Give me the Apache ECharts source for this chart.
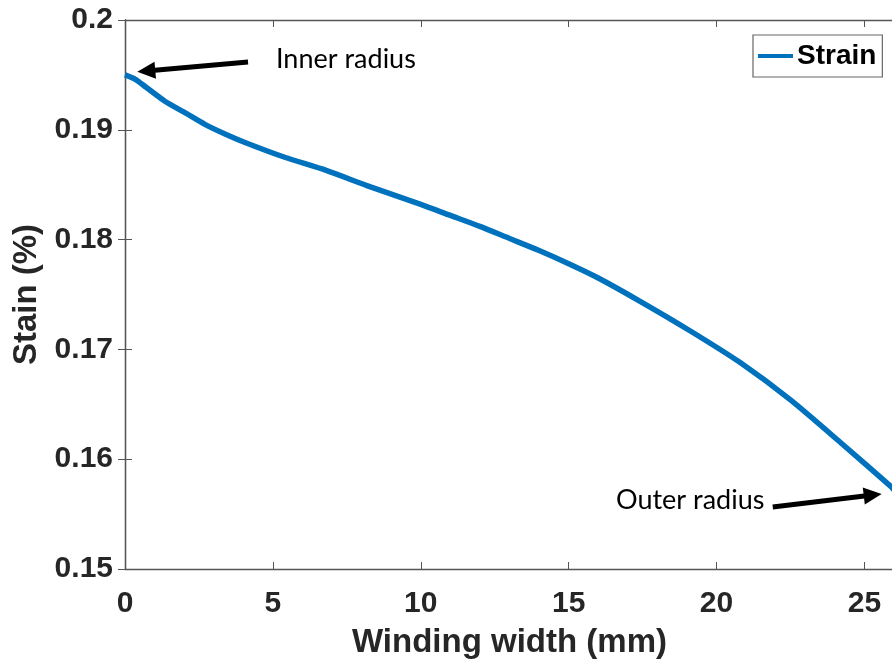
<!DOCTYPE html>
<html>
<head>
<meta charset="utf-8">
<script src="https://cdn.jsdelivr.net/npm/echarts@6/dist/echarts.min.js"></script>
<style>html,body{margin:0;padding:0;background:#fff;}#c{width:892px;height:668px;}</style>
</head>
<body>
<div id="c"></div>
<script>
const widthMm = [0, 0.35, 0.7, 1.35, 2, 2.7, 3.4, 4.1, 5.4, 6.8, 8.3, 10, 11, 12, 13, 14, 15, 16, 17.4, 19.1, 20.8, 22.5, 24.2, 25.9, 26];
const strain = [0.1950, 0.1946, 0.1939, 0.1926, 0.1916, 0.1905, 0.1896, 0.1888, 0.1875, 0.1863, 0.1848, 0.1832, 0.1822, 0.1812, 0.1801, 0.1790, 0.1778, 0.1765, 0.1744, 0.1717, 0.1688, 0.1654, 0.1615, 0.1575, 0.1572];
const xTicks = [0, 5, 10, 15, 20, 25];
const yTicks = [0.15, 0.16, 0.17, 0.18, 0.19, 0.2];
const innerArrow = [[4.16, 0.19617], [0.72, 0.19536]];
const outerArrow = [[21.9, 0.15565], [25.28, 0.15674]];

const chart = echarts.init(document.getElementById('c'));
const axisCol = '#555';
const labFont = {fontFamily: 'Liberation Sans, Arial, sans-serif', fontWeight: 'bold', color: '#262626'};
const data = widthMm.map((x, i) => [x, strain[i]]);
chart.setOption({
  animation: false,
  grid: {left: 125, top: 20, width: 769, height: 549, containLabel: false, outerBoundsMode: 'none'},
  legend: {
    data: ['Strain'], left: 753, top: 35, orient: 'vertical',
    backgroundColor: '#fff', borderColor: '#666', borderWidth: 1.2,
    padding: [7, 6, 7, 5], itemWidth: 35, itemHeight: 4, itemGap: 0,
    icon: 'rect',
    textStyle: {fontFamily: 'Liberation Sans, Arial, sans-serif', fontWeight: 'bold', fontSize: 28, lineHeight: 28, color: '#000', padding: [0, 0, 0, -1]}
  },
  xAxis: [{
    type: 'value', min: 0, max: 26, interval: 5,
    name: 'Winding width (mm)', nameLocation: 'middle', nameGap: 57,
    nameTextStyle: Object.assign({fontSize: 33}, labFont),
    axisLine: {lineStyle: {color: axisCol, width: 1.3}},
    axisTick: {inside: true, length: 7, lineStyle: {color: axisCol}},
    axisLabel: Object.assign({fontSize: 30, margin: 20, showMaxLabel: false, formatter: v => xTicks.includes(v) ? String(v) : ''}, labFont),
    splitLine: {show: false}
  }, {
    type: 'value', min: 0, max: 26, interval: 5, position: 'top',
    axisLine: {lineStyle: {color: axisCol, width: 1.3}},
    axisTick: {inside: true, length: 7, lineStyle: {color: axisCol}},
    axisLabel: {show: false}, splitLine: {show: false}
  }],
  yAxis: [{
    type: 'value', min: 0.15, max: 0.2, interval: 0.01,
    name: 'Stain (%)', nameLocation: 'middle', nameGap: 82,
    nameTextStyle: Object.assign({fontSize: 33}, labFont),
    axisLine: {lineStyle: {color: axisCol, width: 1.3}},
    axisTick: {inside: true, length: 7, lineStyle: {color: axisCol}},
    axisLabel: Object.assign({fontSize: 30, margin: 12, padding: [6, 0, 0, 0], formatter: v => { const t = yTicks.find(a => Math.abs(a - v) < 1e-9); return t === undefined ? '' : String(t); }}, labFont),
    splitLine: {show: false}
  }, {
    type: 'value', min: 0.15, max: 0.2, interval: 0.01, position: 'right',
    axisLine: {lineStyle: {color: axisCol, width: 1.3}},
    axisTick: {inside: true, length: 7, lineStyle: {color: axisCol}},
    axisLabel: {show: false}, splitLine: {show: false}
  }],
  series: [{
    name: 'Strain', type: 'line', data: data, showSymbol: false, smooth: 0.25,
    lineStyle: {color: '#0072BD', width: 5.5}, itemStyle: {color: '#0072BD'},
    markLine: {
      silent: true, symbol: ['none', 'triangle'], symbolSize: [17, 18],
      label: {show: false},
      lineStyle: {color: '#000', width: 5, type: 'solid'},
      data: [
        [{coord: innerArrow[0]}, {coord: innerArrow[1]}],
        [{coord: outerArrow[0]}, {coord: outerArrow[1]}]
      ]
    }
  }],
  graphic: [
    {type: 'text', left: 276, top: 46, style: {text: 'Inner radius', font: '27px Lato, "Open Sans", sans-serif', fill: '#000'}},
    {type: 'text', left: 616, top: 487, style: {text: 'Outer radius', font: '27px Lato, "Open Sans", sans-serif', fill: '#000'}}
  ]
});
</script>
</body>
</html>
